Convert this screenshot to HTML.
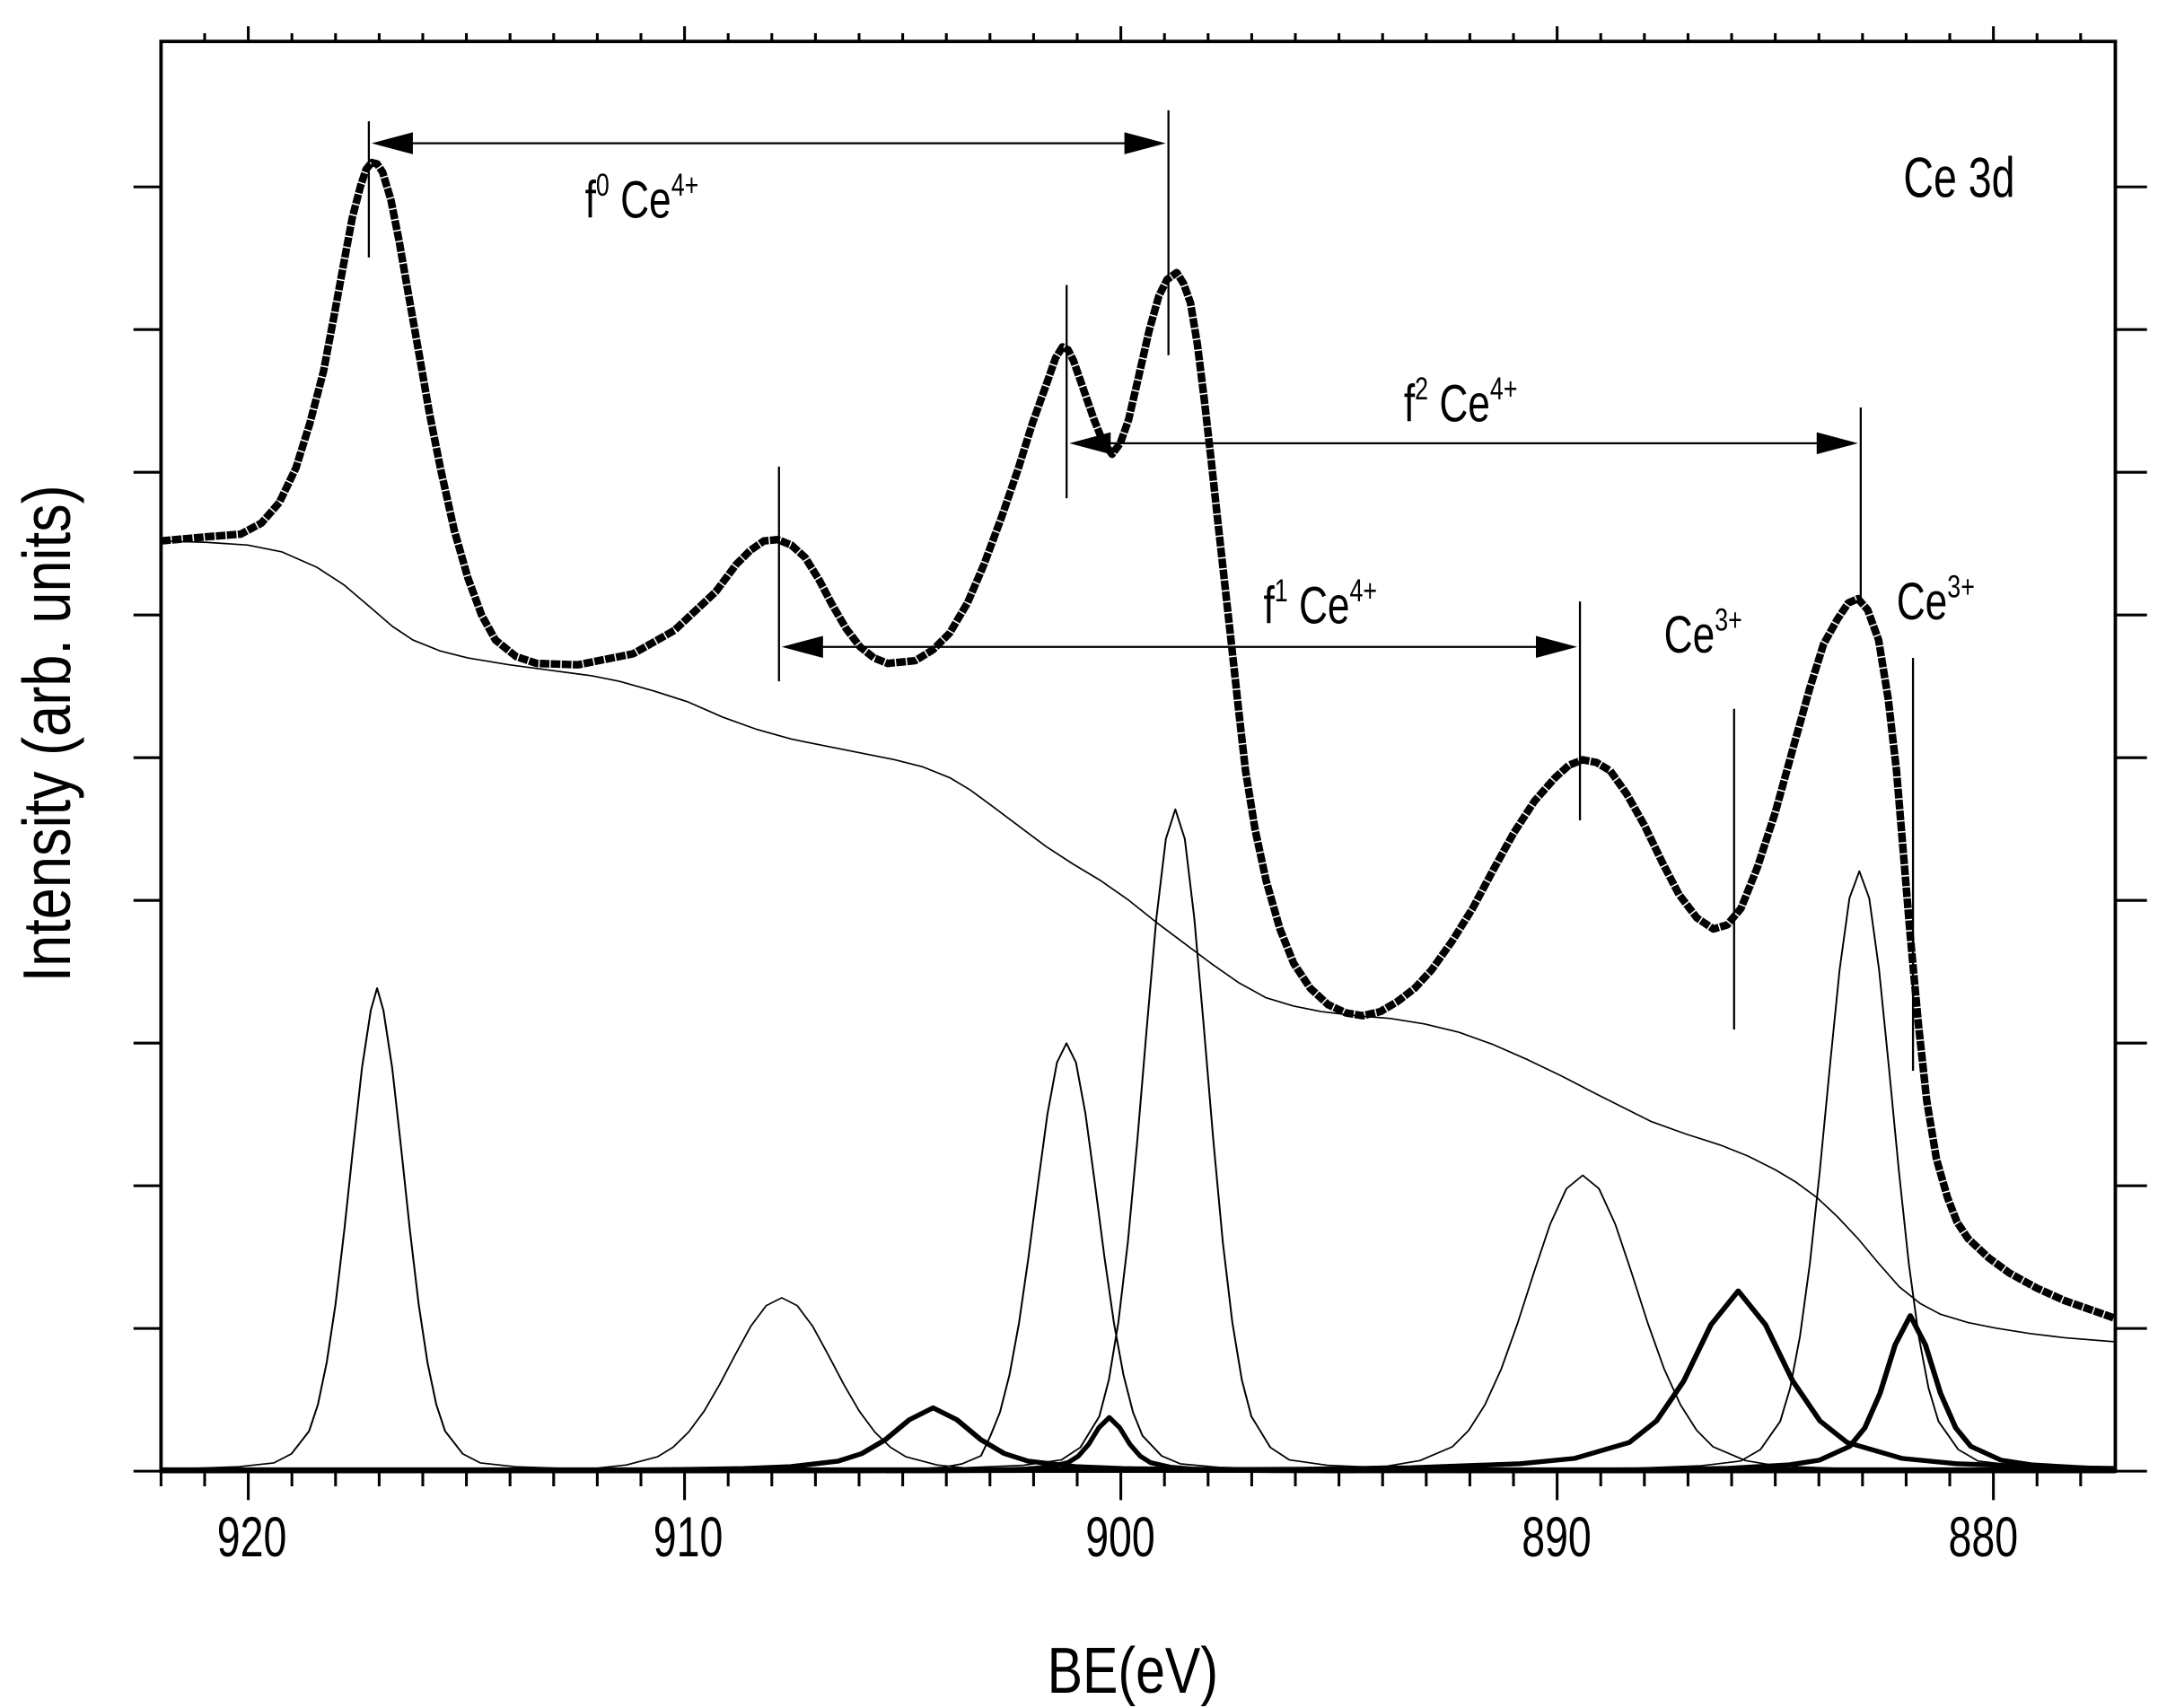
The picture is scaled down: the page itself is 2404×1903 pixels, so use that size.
<!DOCTYPE html>
<html><head><meta charset="utf-8"><style>
html,body{margin:0;padding:0;background:#fff;}
svg{display:block;}
text{font-family:"Liberation Sans",Arial,sans-serif;fill:#000;}
</style></head><body>
<svg width="2404" height="1903" viewBox="0 0 1568 1241" xmlns="http://www.w3.org/2000/svg">
<defs><clipPath id="c"><rect x="117" y="30" width="1420" height="1041"/></clipPath></defs>
<rect width="1568" height="1241" fill="#fff"/>
<g clip-path="url(#c)">
<g fill="none" stroke="#000" stroke-linejoin="round" stroke-width="1.1">
<polyline transform="translate(274,0) scale(1.22,1) translate(-274,0)" points="117,1068.5 149.5,1067.6 191.5,1065.8 212.5,1063 223,1056.4 233.5,1039.9 238.75,1020.6 244,990 249.25,947.6 254.5,893.5 259.75,833.5 265,776 270.25,734 274,718 277.75,734 283,776 288.25,833.5 293.5,893.5 298.75,947.6 304,990 309.25,1020.6 314.5,1039.9 325,1056.4 335.5,1063 356.5,1065.8 398.5,1067.6 450,1068.5"/>
<polyline transform="translate(568,0) scale(1.1,1) translate(-568,0)" points="322,1068.5 404,1067.9 445,1066.9 465.5,1064.5 486,1058.5 496.25,1051.6 506.5,1040.6 516.75,1025.4 527,1006 537.25,984.5 547.5,963.8 557.75,948.7 568,943 578.25,948.7 588.5,963.8 598.75,984.5 609,1006 619.25,1025.4 629.5,1040.6 639.75,1051.6 650,1058.5 670.5,1064.5 691,1066.9 732,1067.9 814,1068.5"/>
<polyline transform="translate(768,0) scale(1.2,1) translate(-768,0)" points="630,1068.5 676,1067.8 699,1066.2 710.5,1063.7 722,1057.8 727.75,1043.2 733.5,1026.1 739.25,999 745,961.4 750.75,913.5 756.5,860.3 762.25,809.3 768,772 773.75,758 779.5,772 785.25,809.3 791,860.3 796.75,913.5 802.5,961.4 808.25,999 814,1026.1 819.75,1043.2 831.25,1057.8 842.75,1063.7 865.75,1066.2 911.75,1067.8 950,1068.5"/>
<polyline transform="translate(854,0) scale(1.2,1) translate(-854,0)" points="680,1068.5 716,1067.1 762,1064.7 785,1060.8 796.5,1051.7 808,1029.1 813.75,1002.6 819.5,960.8 825.25,902.6 831,828.5 836.75,746.2 842.5,667.4 848.25,609.6 854,588 859.75,609.6 865.5,667.4 871.25,746.2 877,828.5 882.75,902.6 888.5,960.8 894.25,1002.6 900,1029.1 911.5,1051.7 923,1060.8 946,1064.7 992,1067.1 1030,1068.5"/>
<polyline transform="translate(1150,0) scale(1.1,1) translate(-1150,0)" points="880,1068.5 892,1068.1 978,1067.1 1021,1065.3 1042.5,1061.3 1064,1051.2 1074.75,1039.3 1085.5,1020.6 1096.25,994.6 1107,961.5 1117.75,924.7 1128.5,889.5 1139.25,863.7 1150,854 1160.75,863.7 1171.5,889.5 1182.25,924.7 1193,961.5 1203.75,994.6 1214.5,1020.6 1225.25,1039.3 1236,1051.2 1257.5,1061.3 1279,1065.3 1322,1067.1 1408,1068.1 1420,1068.5"/>
<polyline transform="translate(1351,0) scale(1.15,1) translate(-1351,0)" points="1190,1068.5 1201,1067.3 1251,1065.1 1276,1061.6 1288.5,1053.3 1301,1032.8 1307.25,1008.8 1313.5,970.9 1319.75,918.1 1326,851 1332.25,776.4 1338.5,704.9 1344.75,652.6 1351,633 1357.25,652.6 1363.5,704.9 1369.75,776.4 1376,851 1382.25,918.1 1388.5,970.9 1394.75,1008.8 1401,1032.8 1413.5,1053.3 1426,1061.6 1451,1065.1 1501,1067.3 1537,1068"/>
<polyline points="117,393 150,394 180,396 205,401 230,412 250,425 270,442 285,455 300,465 320,473 340,478 370,483 400,487 430,491 450,495 475,502 500,510 525,521 550,530 575,537 600,542 625,547 650,552 670,557 690,565 705,574 720,585 740,600 760,615 780,628 800,640 820,654 840,670 860,685 880,700 900,714 920,725 940,731 960,735 985,738 1010,740 1035,744 1060,750 1085,759 1110,770 1135,782 1160,795 1180,805 1200,815 1225,824 1250,832 1270,840 1290,850 1305,859 1320,870 1335,884 1350,900 1365,918 1380,935 1395,947 1410,955 1430,961 1450,965 1475,969 1500,972 1537,975"/>
</g>
<g fill="none" stroke="#000" stroke-linejoin="round" stroke-width="3.5">
<polyline transform="translate(678,0) scale(1.15,1) translate(-678,0)" points="117,1068.8 318,1068.5 438,1068.5 498,1068.1 558,1067.1 588,1065.7 618,1061.7 633,1056.2 648,1046 663,1031.6 678,1023 693,1031.6 708,1046 723,1056.2 738,1061.7 768,1065.7 798,1067.1 858,1068.1 918,1068.5 1038,1068.8 1537,1068.8"/>
<polyline points="117,1068.8 626,1068.8 686,1068.6 716,1068.3 746,1067.4 761,1066.2 776,1062.8 783.5,1058.1 791,1049.5 798.5,1037.3 806,1030 813.5,1037.3 821,1049.5 828.5,1058.1 836,1062.8 851,1066.2 866,1067.4 896,1068.3 926,1068.6 986,1068.8"/>
<polyline transform="translate(1263,0) scale(1.1,1) translate(-1263,0)" points="700,1068.8 831,1068.3 975,1067.6 1047,1066.5 1119,1063.6 1155,1059.7 1191,1048.2 1209,1032.5 1227,1003.5 1245,962.6 1263,938 1281,962.6 1299,1003.5 1317,1032.5 1335,1048.2 1371,1059.7 1407,1063.6 1479,1066.5 1537,1067.4"/>
<polyline transform="translate(1388,0) scale(1.1,1) translate(-1388,0)" points="1000,1068.8 1148,1068.4 1228,1067.8 1268,1066.9 1308,1064.4 1328,1061 1348,1051 1358,1037.5 1368,1012.5 1378,977.2 1388,956 1398,977.2 1408,1012.5 1418,1037.5 1428,1051 1448,1061 1468,1064.4 1508,1066.9 1537,1067.6"/>
<line x1="117" y1="1068" x2="1537" y2="1068"/>
</g>
<polyline fill="none" stroke="#000" stroke-width="5.5" stroke-dasharray="7 1" stroke-linejoin="round" points="117,393 150,390 175,388 190,380 203,365 215,340 225,308 235,270 243,228 250,190 256,158 262,135 266,123 270,118 274,119 278,125 284,145 290,175 297,215 305,260 312,300 320,340 330,385 340,420 350,447 360,465 375,477 390,482 420,483 460,475 490,458 520,430 535,410 545,400 555,393 565,392 575,396 585,405 595,421 605,440 615,457 625,470 635,478 645,482 665,480 678,472 690,460 703,438 715,410 728,375 740,340 750,308 760,280 767,260 772,252 776,254 780,262 788,285 795,305 801,320 808,330 814,322 820,305 827,275 835,240 842,215 848,203 855,198 860,206 865,220 870,250 875,290 880,334 885,380 890,425 895,470 900,516 905,560 912,603 920,640 930,675 940,700 952,718 965,730 978,736 990,738 1003,735 1015,728 1028,718 1040,705 1055,684 1070,660 1085,632 1100,605 1115,582 1130,565 1140,556 1150,552 1160,554 1170,560 1182,577 1195,600 1208,627 1220,650 1233,667 1245,675 1255,672 1265,660 1277,630 1290,590 1303,543 1315,500 1325,468 1335,450 1343,438 1350,435 1357,443 1365,465 1372,508 1378,560 1383,620 1388,680 1394,745 1400,800 1407,842 1415,870 1422,888 1430,900 1445,914 1460,925 1480,936 1500,945 1520,952 1537,958"/>
</g>
<rect x="117" y="30" width="1420" height="1039" fill="none" stroke="#000" stroke-width="2.5"/>
<path stroke="#000" stroke-width="2" fill="none" d="
M117,1069V1080 M148.7,1069V1080 M180.4,1069V1090 M212.1,1069V1080 M243.8,1069V1080 M275.5,1069V1080 M307.2,1069V1080 M338.9,1069V1080 M370.6,1069V1080 M402.3,1069V1080 M434,1069V1080 M465.7,1069V1080 M497.4,1069V1090 M529.1,1069V1080 M560.8,1069V1080 M592.5,1069V1080 M624.2,1069V1080 M655.9,1069V1080 M687.6,1069V1080 M719.3,1069V1080 M751,1069V1080 M782.7,1069V1080 M814.4,1069V1090 M846.1,1069V1080 M877.8,1069V1080 M909.5,1069V1080 M941.2,1069V1080 M972.9,1069V1080 M1004.6,1069V1080 M1036.3,1069V1080 M1068,1069V1080 M1099.7,1069V1080 M1131.4,1069V1090 M1163.1,1069V1080 M1194.8,1069V1080 M1226.5,1069V1080 M1258.2,1069V1080 M1289.9,1069V1080 M1321.6,1069V1080 M1353.3,1069V1080 M1385,1069V1080 M1416.7,1069V1080 M1448.4,1069V1090 M1480.1,1069V1080 M1511.8,1069V1080
M148.7,30V24 M180.4,30V19 M212.1,30V24 M243.8,30V24 M275.5,30V24 M307.2,30V24 M338.9,30V24 M370.6,30V24 M402.3,30V24 M434,30V24 M465.7,30V24 M497.4,30V19 M529.1,30V24 M560.8,30V24 M592.5,30V24 M624.2,30V24 M655.9,30V24 M687.6,30V24 M719.3,30V24 M751,30V24 M782.7,30V24 M814.4,30V19 M846.1,30V24 M877.8,30V24 M909.5,30V24 M941.2,30V24 M972.9,30V24 M1004.6,30V24 M1036.3,30V24 M1068,30V24 M1099.7,30V24 M1131.4,30V19 M1163.1,30V24 M1194.8,30V24 M1226.5,30V24 M1258.2,30V24 M1289.9,30V24 M1321.6,30V24 M1353.3,30V24 M1385,30V24 M1416.7,30V24 M1448.4,30V19 M1480.1,30V24 M1511.8,30V24
M97,1069H117 M97,965.3H117 M97,861.6H117 M97,757.9H117 M97,654.2H117 M97,550.5H117 M97,446.8H117 M97,343.1H117 M97,239.4H117 M97,135.7H117
M1537,1069H1560 M1537,965.3H1560 M1537,861.6H1560 M1537,757.9H1560 M1537,654.2H1560 M1537,550.5H1560 M1537,446.8H1560 M1537,343.1H1560 M1537,239.4H1560 M1537,135.7H1560"/>
<g stroke="#000" stroke-width="1.5" fill="none">
<line x1="268" y1="88" x2="268" y2="187"/>
<line x1="849" y1="80" x2="849" y2="258"/>
<line x1="285" y1="104" x2="830" y2="104"/>
<line x1="775" y1="207" x2="775" y2="362"/>
<line x1="1352" y1="296" x2="1352" y2="435"/>
<line x1="795" y1="322" x2="1332" y2="322"/>
<line x1="566" y1="339" x2="566" y2="495"/>
<line x1="1148" y1="437" x2="1148" y2="596"/>
<line x1="585" y1="470" x2="1130" y2="470"/>
<line x1="1260" y1="515" x2="1260" y2="748"/>
<line x1="1390" y1="478" x2="1390" y2="778"/>
</g>
<g fill="#000">
<polygon points="270,104 300,96 300,112"/>
<polygon points="847,104 817,96 817,112"/>
<polygon points="777,322 807,314 807,330"/>
<polygon points="1350,322 1320,314 1320,330"/>
<polygon points="568,470 598,462 598,478"/>
<polygon points="1146,470 1116,462 1116,478"/>
</g>
<g font-size="38">
<text transform="translate(1383,143) scale(0.74,1)" font-size="41">Ce 3d</text>
<text transform="translate(425,158) scale(0.76,1)">f<tspan font-size="23" dy="-16">0</tspan><tspan dy="16"> Ce</tspan><tspan font-size="23" dy="-16">4+</tspan></text>
<text transform="translate(1020,306) scale(0.76,1)">f<tspan font-size="23" dy="-16">2</tspan><tspan dy="16"> Ce</tspan><tspan font-size="23" dy="-16">4+</tspan></text>
<text transform="translate(918,453) scale(0.76,1)">f<tspan font-size="23" dy="-16">1</tspan><tspan dy="16"> Ce</tspan><tspan font-size="23" dy="-16">4+</tspan></text>
<text transform="translate(1209,474) scale(0.76,1)">Ce<tspan font-size="23" dy="-16">3+</tspan></text>
<text transform="translate(1378,450) scale(0.76,1)">Ce<tspan font-size="23" dy="-16">3+</tspan></text>
</g>
<g font-size="41" text-anchor="middle">
<text transform="translate(183,1131) scale(0.74,1)">920</text>
<text transform="translate(500,1131) scale(0.74,1)">910</text>
<text transform="translate(814,1131) scale(0.74,1)">900</text>
<text transform="translate(1131,1131) scale(0.74,1)">890</text>
<text transform="translate(1441,1131) scale(0.74,1)">880</text>
<text transform="translate(823,1230) scale(0.82,1)" font-size="47">BE(eV)</text>
<text transform="translate(51,533) rotate(-90) scale(0.84,1)" font-size="49">Intensity (arb. units)</text>
</g>
</svg>
</body></html>
